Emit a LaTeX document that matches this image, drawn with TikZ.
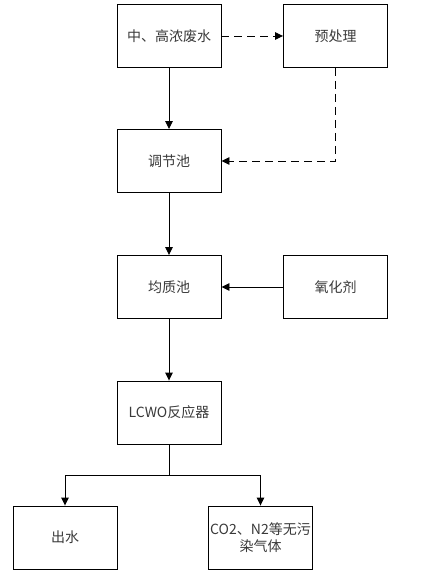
\documentclass[tikz,border=0pt]{standalone}
\usepackage{fontspec}
\setmainfont{Noto Sans CJK SC}
\usetikzlibrary{arrows.meta}
\definecolor{txt}{HTML}{3A3A3A}
\tikzset{
  box/.style={draw=black, line width=0.9pt, minimum width=104pt, minimum height=63pt,
    inner sep=1pt, text=txt, font=\fontsize{14}{17}\selectfont, align=center},
  flow/.style={line width=0.9pt, -{Triangle[length=8pt,width=7.5pt]}},
  dflow/.style={flow, dash pattern=on 8pt off 5pt},
  plain/.style={line width=0.9pt}
}
\begin{document}
\begin{tikzpicture}[x=1pt,y=-1pt]
\useasboundingbox[fill=white] (0,0) rectangle (430,580);
\node[box] (n1) at (169,36) {中、高浓废水};
\node[box] (n2) at (335.5,36) {预处理};
\node[box] (n3) at (169,161) {调节池};
\node[box] (n4) at (169,287) {均质池};
\node[box] (n5) at (335.5,287) {氧化剂};
\node[box] (n6) at (169,412.5) {LCWO反应器};
\node[box] (n7) at (65,537.5) {出水};
\node[box] (n8) at (260.5,537.5) {CO2、N2等无污\\染气体};
\draw[dflow] (n1) -- (n2);
\draw[flow] (n1) -- (n3);
\draw[dflow] (n2.south) |- (n3.east);
\draw[flow] (n3) -- (n4);
\draw[flow] (n5) -- (n4);
\draw[flow] (n4) -- (n6);
\draw[plain] (n6.south) -- ++(0,31) coordinate (j);
\draw[flow] (j) -| (n7.north);
\draw[flow] (j) -| (n8.north);
\end{tikzpicture}
\end{document}
